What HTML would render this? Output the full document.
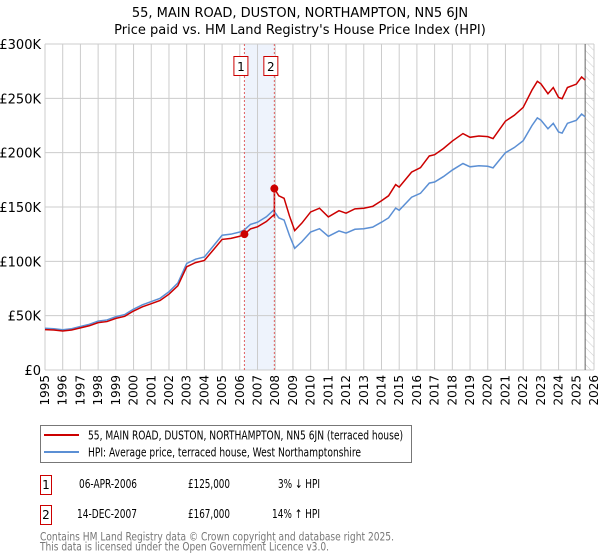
<!DOCTYPE html>
<html><head><meta charset="utf-8"><style>
body{margin:0;background:#fff;font-family:"DejaVu Sans","Liberation Sans",sans-serif;}
#wrap{position:relative;width:600px;height:560px;overflow:hidden}
</style></head><body><div id="wrap">
<svg id="svg" width="600" height="560" style="position:absolute;left:0;top:0">
<defs><pattern id="hatch" width="6" height="6" patternUnits="userSpaceOnUse" patternTransform="rotate(-45)"><line x1="0" y1="0" x2="0" y2="6" stroke="#ccc" stroke-width="1"/></pattern></defs>
<text x="300" y="17" text-anchor="middle" font-size="13" font-family="DejaVu Sans,sans-serif">55, MAIN ROAD, DUSTON, NORTHAMPTON, NN5 6JN</text>
<text x="300" y="34" text-anchor="middle" font-size="13" font-family="DejaVu Sans,sans-serif">Price paid vs. HM Land Registry's House Price Index (HPI)</text>
<g id="grid"></g><g id="marks"></g><g id="axes"></g>
</svg>
<svg width="600" height="560" style="position:absolute;left:0;top:0" font-family="DejaVu Sans,sans-serif">
<rect x="40.5" y="425.5" width="371" height="37" fill="#fff" stroke="#777"/>
<line x1="44" y1="435" x2="79" y2="435" stroke="#cc0000" stroke-width="2"/>
<text x="88" y="439.5" font-size="12" textLength="315" lengthAdjust="spacingAndGlyphs">55, MAIN ROAD, DUSTON, NORTHAMPTON, NN5 6JN (terraced house)</text>
<line x1="44" y1="452" x2="79" y2="452" stroke="#5b8fd4" stroke-width="2"/>
<text x="88" y="456.5" font-size="12" textLength="273" lengthAdjust="spacingAndGlyphs">HPI: Average price, terraced house, West Northamptonshire</text>
<g font-size="12">
<rect x="40.5" y="475.5" width="11" height="19" fill="none" stroke="#cc0000"/><text x="46" y="489" text-anchor="middle">1</text>
<text x="79" y="488" textLength="58" lengthAdjust="spacingAndGlyphs">06-APR-2006</text><text x="188" y="488" textLength="42" lengthAdjust="spacingAndGlyphs">£125,000</text><text x="278" y="488" textLength="42" lengthAdjust="spacingAndGlyphs">3% ↓ HPI</text></g>
<g font-size="12">
<rect x="40.5" y="505.5" width="11" height="19" fill="none" stroke="#cc0000"/><text x="46" y="519" text-anchor="middle">2</text>
<text x="77" y="518" textLength="60" lengthAdjust="spacingAndGlyphs">14-DEC-2007</text><text x="188" y="518" textLength="42" lengthAdjust="spacingAndGlyphs">£167,000</text><text x="272" y="518" textLength="48" lengthAdjust="spacingAndGlyphs">14% ↑ HPI</text></g>
<text x="40" y="540.5" font-size="11.5" fill="#777" textLength="354" lengthAdjust="spacingAndGlyphs">Contains HM Land Registry data © Crown copyright and database right 2025.</text>
<text x="40" y="550.5" font-size="11.5" fill="#777" textLength="289" lengthAdjust="spacingAndGlyphs">This data is licensed under the Open Government Licence v3.0.</text>
</svg>
</div>
<script>
const hpiYears=[1995,1995.5,1996,1996.5,1997,1997.5,1998,1998.5,1999,1999.5,2000,2000.5,2001,2001.5,2002,2002.5,2003,2003.5,2004,2004.5,2005,2005.5,2006,2006.26,2006.6,2007,2007.5,2007.9,2008.2,2008.5,2008.8,2009.1,2009.5,2010,2010.5,2011,2011.6,2012,2012.5,2013,2013.5,2014,2014.4,2014.8,2015,2015.7,2016.2,2016.7,2017,2017.5,2018,2018.6,2019,2019.5,2020,2020.3,2020.5,2021,2021.5,2022,2022.5,2022.8,2023,2023.4,2023.7,2024,2024.2,2024.5,2025,2025.3,2025.5];
const hpiValues=[38.4,38,37,38,40,42,45,46,49,51,56,60,63,66,72,80,98,102,104,114,124,125,127,129,134,136,141,147,140,138,124,112,118,127,130,123,128,126,129.5,130,131.5,136,140,149,147,159,162.6,172,173,178,184,190,187,188,187.5,186,190,200,204.7,211,225,232,230,222,227,219,218,227,229.7,235.5,233];
const saleDates=[2006.26,2007.95];
const salePrices=[125,167];
const yTicks=[0,50,100,150,200,250,300];
const yTickLabels=["£0","£50K","£100K","£150K","£200K","£250K","£300K"];
const xTicks=[1995,1996,1997,1998,1999,2000,2001,2002,2003,2004,2005,2006,2007,2008,2009,2010,2011,2012,2013,2014,2015,2016,2017,2018,2019,2020,2021,2022,2023,2024,2025,2026];
const dataEnd=2025.5;

const X0=45,X1=594,Y0=370,Y1=44;
const xs=t=>X0+(t-1995)/31*(X1-X0);
const ys=v=>Y0-v/300*(Y0-Y1);
const NS="http://www.w3.org/2000/svg";
function mk(tag,attrs,parent){const e=document.createElementNS(NS,tag);for(const k in attrs)e.setAttribute(k,attrs[k]);parent.appendChild(e);return e;}
const grid=document.getElementById('grid'),marks=document.getElementById('marks'),axes=document.getElementById('axes');
function hpiAt(t){for(let i=1;i<hpiYears.length;i++){if(t<=hpiYears[i]){const a=hpiYears[i-1],b=hpiYears[i];return hpiValues[i-1]+(hpiValues[i]-hpiValues[i-1])*(t-a)/(b-a);}}return hpiValues[hpiValues.length-1];}
const sh=mk('rect',{x:xs(saleDates[0]),y:Y1,width:xs(saleDates[1])-xs(saleDates[0]),height:Y0-Y1,fill:'#eef3fc'},grid);


xTicks.forEach((t,i)=>{
  const l=mk('line',{x1:xs(t),x2:xs(t),y1:Y1,y2:Y0,stroke:'#ccc'},grid);
  
  
  const tx=mk('text',{x:0,y:0,'font-size':12,'text-anchor':'end',transform:`translate(${xs(t)+4},${Y0+5}) rotate(-90)`},axes);
  tx.textContent=t;
  
  
});
yTicks.forEach((v,i)=>{
  const l=mk('line',{x1:X0,x2:X1,y1:ys(v),y2:ys(v),stroke:'#ccc'},grid);
  
  
  const tx=mk('text',{x:41,y:ys(v)+5,'font-size':13,'text-anchor':'end'},axes);
  tx.textContent=yTickLabels[i];
  
  
});
const hz=mk('rect',{x:xs(dataEnd),y:Y1,width:X1-xs(dataEnd),height:Y0-Y1,fill:'url(#hatch)'},grid);


const el=mk('line',{x1:xs(dataEnd),x2:xs(dataEnd),y1:Y1,y2:Y0,stroke:'#666'},grid);


const hp=mk('polyline',{points:hpiYears.map((t,i)=>xs(t)+','+ys(hpiValues[i])).join(' '),fill:'none',stroke:'#5b8fd4','stroke-width':1.5},marks);


const r1=salePrices[0]/hpiAt(saleDates[0]),r2=salePrices[1]/hpiAt(saleDates[1]);
let pts=[];
hpiYears.forEach((t,i)=>{
  if(t<saleDates[1]) pts.push([t,hpiValues[i]*r1]);
});
pts.push([saleDates[1],hpiAt(saleDates[1])*r1]);
pts.push([saleDates[1],salePrices[1]]);
hpiYears.forEach((t,i)=>{if(t>saleDates[1]) pts.push([t,hpiValues[i]*r2]);});
const pl=mk('polyline',{points:pts.map(p=>xs(p[0])+','+ys(p[1])).join(' '),fill:'none',stroke:'#cc0000','stroke-width':1.5},marks);


saleDates.forEach((t,i)=>{
  const l=mk('line',{x1:xs(t),x2:xs(t),y1:Y1,y2:Y0,stroke:'#e06060','stroke-dasharray':'2,2'},marks);
  
  
  const c=mk('circle',{cx:xs(t),cy:ys(salePrices[i]),r:4,fill:'#cc0000'},marks);
  
  
  const b=mk('rect',{x:xs(t)-10.5,y:56.5,width:14,height:19,fill:'#fff',stroke:'#cc0000'},marks);
  
  
  const tx=mk('text',{x:xs(t)-3.5,y:71,'font-size':12,'text-anchor':'middle'},marks);
  tx.textContent=String(i+1);
  
  
});
</script>
</body></html>
